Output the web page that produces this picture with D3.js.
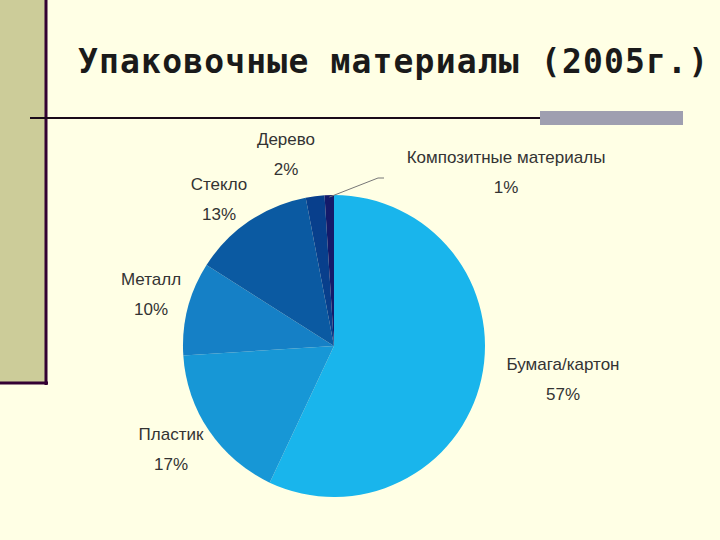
<!DOCTYPE html>
<html><head><meta charset="utf-8">
<script src="https://cdn.jsdelivr.net/npm/d3@7"></script>
<style>body{margin:0;background:#ffffe5}svg{display:block}</style>
</head><body>
<svg id="c" width="720" height="540"></svg>
<script>
const categories = ["Бумага/картон","Пластик","Металл","Стекло","Дерево","Композитные материалы"];
const values = [57,17,10,13,2,1];
const colors = ["#19b5ec","#1797d6","#1580c6","#0b5aa2","#083f8c","#141a6a"];
const labelPos = [[563,370],[171,440],[151,285],[219,190],[286,145],[506,163]];

const svg = d3.select("#c");
svg.append("rect").attr("width",720).attr("height",540).attr("fill","#ffffe5");
svg.append("rect").attr("x",0).attr("y",0).attr("width",46).attr("height",383).attr("fill","#cccc99");
svg.append("line").attr("x1",46).attr("y1",0).attr("x2",46).attr("y2",385).attr("stroke","#330033").attr("stroke-width",3);
svg.append("line").attr("x1",0).attr("y1",383).attr("x2",48).attr("y2",383).attr("stroke","#330033").attr("stroke-width",3);
svg.append("line").attr("x1",30).attr("y1",118).attr("x2",540).attr("y2",118).attr("stroke","#1a0a1a").attr("stroke-width",2);
svg.append("rect").attr("x",540).attr("y",111).attr("width",143).attr("height",14).attr("fill","#9f9fb0");
svg.append("text").attr("x",78).attr("y",73).attr("font-family","DejaVu Sans Mono").attr("font-weight","bold")
  .attr("font-size",33).attr("fill","#1a1a1a").attr("textLength",630).text("Упаковочные материалы (2005г.)");

const cx=334, cy=346, r=151;
const pie = d3.pie().sort(null).value(d=>d)(values);
const arc = d3.arc().innerRadius(0).outerRadius(r);
const g = svg.append("g").attr("transform",`translate(${cx},${cy})`);
g.selectAll("path").data(pie).join("path").attr("d",arc).attr("fill",(d,i)=>colors[i]);

// leader line for composite
const p = pie[5], a=(p.startAngle+p.endAngle)/2;
svg.append("polyline").attr("points",`${cx+Math.sin(a)*(r-2)},${cy-Math.cos(a)*(r-2)} ${cx+60},${cy-168} ${cx+50},${cy-168}`)
  .attr("points",`${cx+Math.sin(a)*(r-2)},${cy-Math.cos(a)*(r-2)} 378,178 384,178`)
  .attr("fill","none").attr("stroke","#777").attr("stroke-width",1);

categories.forEach((c,i)=>{
  const t = svg.append("text").attr("font-family","Liberation Sans, Arial").attr("font-size",17).attr("fill","#333").attr("text-anchor","middle");
  t.append("tspan").attr("x",labelPos[i][0]).attr("y",labelPos[i][1]).text(c);
  t.append("tspan").attr("x",labelPos[i][0]).attr("dy",30).text(values[i]+"%");
});
</script>
</body></html>
